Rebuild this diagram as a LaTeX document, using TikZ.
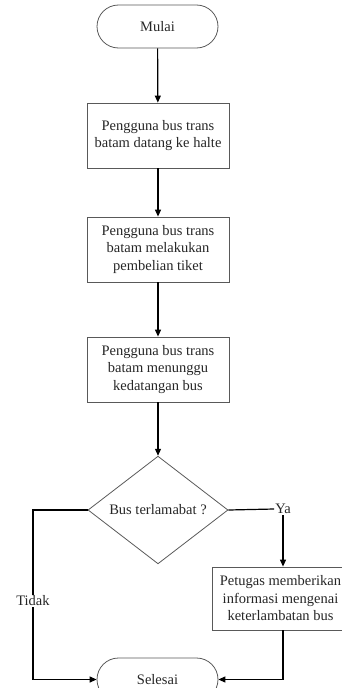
\documentclass[tikz,border=0pt]{standalone}
\usepackage{fontspec}
\setmainfont{Liberation Serif}
\usetikzlibrary{shapes.geometric,arrows.meta}
\begin{document}
\begin{tikzpicture}[x=1pt,y=-1pt,
  every node/.style={font=\fontsize{14.5}{17.5}\selectfont, text=black!85},
  term/.style={draw=black!65, line width=0.8pt, rectangle, rounded corners=21.5pt, minimum width=121pt, minimum height=43pt, inner sep=0pt},
  proc/.style={draw=black!65, line width=0.8pt, rectangle, minimum width=142pt, minimum height=65pt, inner sep=0pt, align=center},
  dec/.style={draw=black!65, line width=0.8pt, diamond, minimum width=140pt, minimum height=106pt, inner sep=0pt},
  lbl/.style={inner sep=1pt},
  conn/.style={line width=1.2pt, black},
  arr/.style={conn, -{Triangle[length=7pt,width=6pt]}}]
\useasboundingbox (0,0) rectangle (342,688);
\begin{scope}
\clip (0,0) rectangle (342,688);
\node[term] (mulai) at (157.5,26.5) {Mulai};
\node[proc] (b1) at (158,135.5) {Pengguna bus trans\\batam datang ke halte};
\node[proc] (b2) at (158,249.5) {Pengguna bus trans\\batam melakukan\\pembelian tiket};
\node[proc] (b3) at (158,369.5) {Pengguna bus trans\\batam menunggu\\kedatangan bus};
\node[dec] (dia) at (158,510) {Bus terlamabat ?};
\node[lbl] (ya) at (283,509) {Ya};
\node[proc, minimum height=63pt] (pet) at (283,598.5) {};
\node[align=center, inner sep=0pt] (pettext) at (280.5,598.5) {Petugas memberikan\\informasi mengenai\\keterlambatan bus};
\node[term] (sel) at (157.5,679.5) {Selesai};
\node[lbl] (tidak) at (33,601) {Tidak};
\draw[arr] (mulai) -- (b1);
\draw[arr] (b1) -- (b2);
\draw[arr] (b2) -- (b3);
\draw[arr] (b3) -- (dia);
\draw[conn] (dia.east) -- (ya.west);
\draw[arr] (ya.south) -- (pet.north);
\draw[conn] (dia.west) -| (tidak.north);
\draw[arr] (tidak.south) |- (sel.west);
\draw[arr] (pet.south) |- (sel.east);
\end{scope}
\end{tikzpicture}
\end{document}
